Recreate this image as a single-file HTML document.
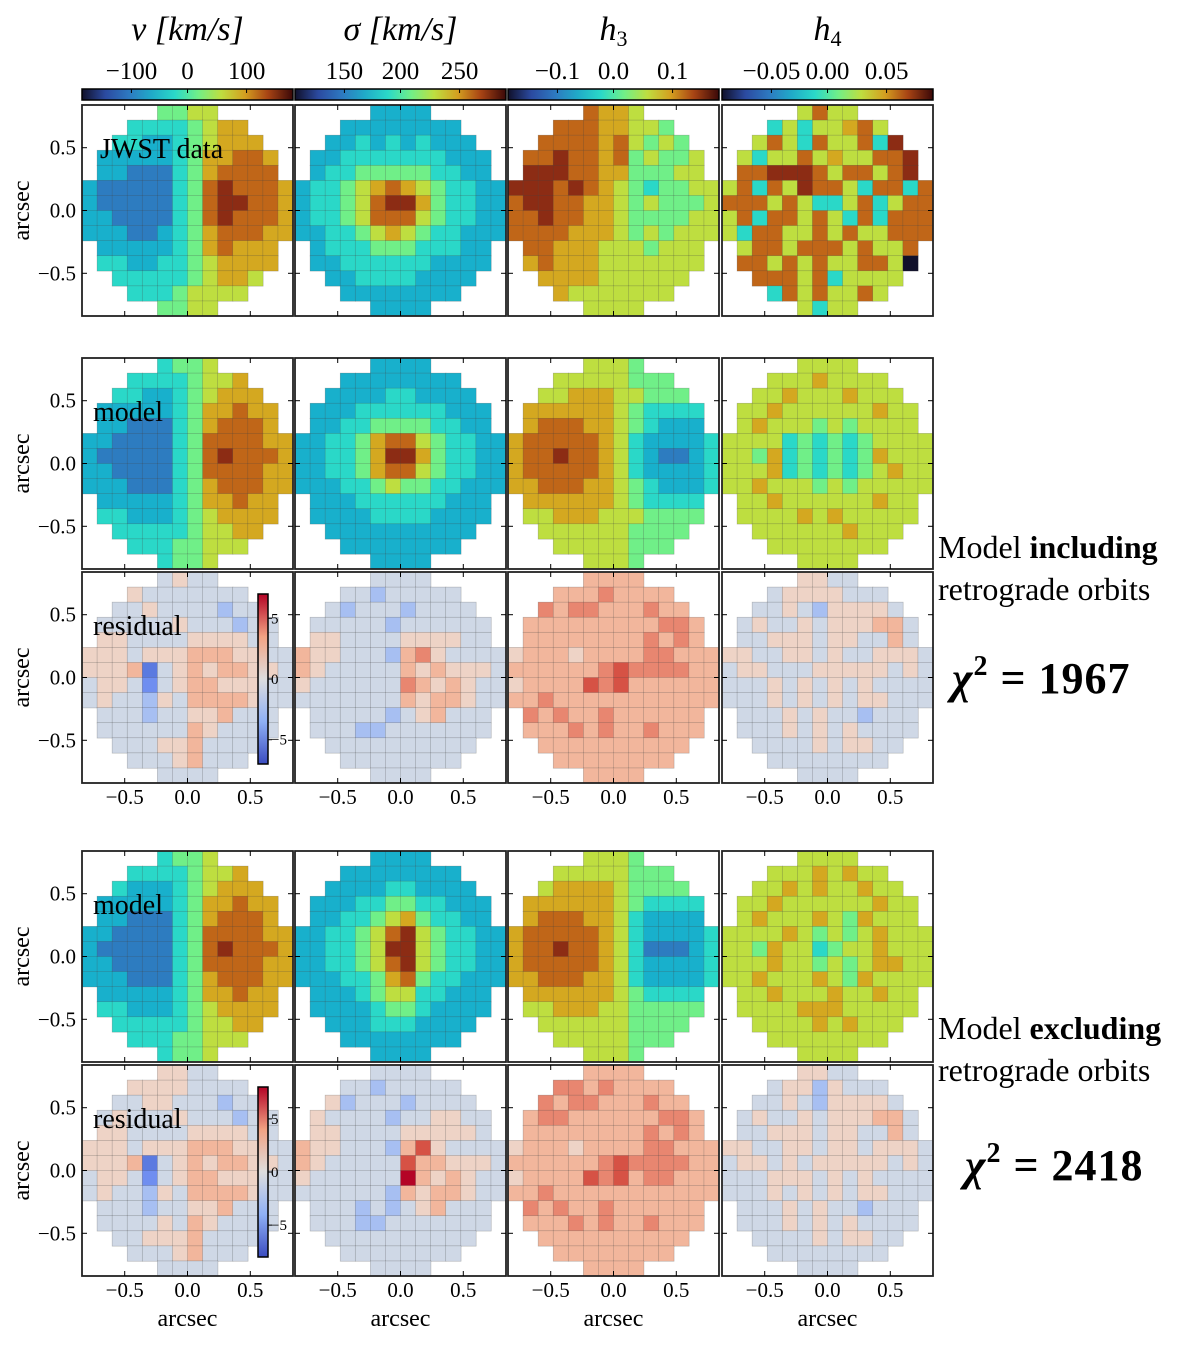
<!DOCTYPE html>
<html><head><meta charset="utf-8"><style>
body{margin:0;background:#fff;}
svg text{font-family:"Liberation Serif",serif;fill:#000;}
</style></head><body>
<svg id="fig" width="1190" height="1340" viewBox="0 0 1190 1340" xmlns="http://www.w3.org/2000/svg">
<defs>
<linearGradient id="gIce" x1="0" x2="1" y1="0" y2="0">
<stop offset="0" stop-color="#10102a"/><stop offset="0.11" stop-color="#2b4aa0"/><stop offset="0.22" stop-color="#2d78c0"/><stop offset="0.33" stop-color="#20aac8"/><stop offset="0.44" stop-color="#2ad8c8"/><stop offset="0.55" stop-color="#70ef88"/><stop offset="0.66" stop-color="#bede40"/><stop offset="0.77" stop-color="#d4a020"/><stop offset="0.88" stop-color="#a84414"/><stop offset="1" stop-color="#3a0808"/>
</linearGradient>
<linearGradient id="gCw" x1="0" x2="0" y1="1" y2="0">
<stop offset="0" stop-color="#3b4cc0"/><stop offset="0.25" stop-color="#8fb0f5"/><stop offset="0.5" stop-color="#dddddd"/><stop offset="0.75" stop-color="#f2a283"/><stop offset="1" stop-color="#b40426"/>
</linearGradient>
</defs>
</svg>
<script>
// ---- data ----
const colTitles=["v [km/s]","σ [km/s]","h3","h4"];
const cbarTicks=[["−100","0","100"],["150","200","250"],["−0.1","0.0","0.1"],["−0.05","0.00","0.05"]];
const axisTicks=[-0.5,0.0,0.5];
const axisTickLabels=["−0.5","0.0","0.5"];
const residTickLabels=["5","0","−5"];
const residTickVals=[5,0,-5];
const rowLabels=["JWST data","model","residual","model","residual"];

const vData=["44444556666666","44444445677777","44443345677777","43333345778877","33322245788887","32222245898887","32222245899887","33222245898887","33322345788877","43333345787777","44433445677777","44444445677666","44444456666666","44444556666666"];
const sData=["33333333333333","33333333333333","33334343433333","33344444443333","33445555544333","34456787654433","34456899754433","34456888654433","33445676544333","33444555444333","33344444433333","33334444333333","33333333333333","33333333333333"];
const h3Data=["88888877666666","88888877665666","88888878656566","88898878565566","89998877555666","99989876545566","89988776565556","88988776555566","88887776565666","88877766656666","87877766666666","78777766666666","77776666666666","77766666666666"];
const h4Data=["66666686666666","66846466786666","66686486684996","66466867668896","88899986886896","68486988648848","88868644684688","68488686484888","64886686866888","66886888686686","68868686688606","66888684666666","66648686686666","66666646666666"];

const vModA=["44444455666666","44444445667777","44443345677777","43333345778777","33322245788877","33222245888877","32222245898887","33222245888877","33322245788877","43333345778777","44433345677777","44444445667777","44444455666666","44444455666666"];
const sModA=["33333333333333","33333333333333","33333344333333","33334444443333","33344555544333","33445788654433","33445799754433","33445788654433","33344565544333","33334444443333","33333444433333","33333333333333","33333333333333","33333333333333"];
const h3ModA=["66666666555555","66666666555555","66667776655555","67777776544444","77888776543334","78888876433334","78898876432234","78888876433334","77888776543334","67777776544444","66677766655555","66666666555555","66666666555555","66666666555555"];
const h4ModA=["66666666666666","66666676666666","66667666766666","66676666667666","66766656566666","66664545456666","66574545457666","66674545456766","66766656566666","66676666667666","66666767666666","66666666766666","66666666666666","66666666666666"];

const vResA=["44444454444444","44454444444444","44445444434444","44444454443444","45544445555444","55545556665544","55561456566554","45542456655544","45443546666544","44443445564444","44444446544444","44444556444444","44444456444444","44444444444444"];
const sResA=["44444444444444","44444344444444","44434443444444","44444434444444","65544445555444","65544436754444","65444446565554","54444447656544","44444446566544","44444434564444","44443344444444","44444444444444","44444444444444","44444444444444"];
const h3ResA=["66666666666666","66666676666666","66767766676666","66666666667766","66666666676766","56665666677666","66666678777766","56666878666666","66766666666666","67676676666666","66667676676666","66666666666666","66666666666666","66666666666666"];
const h4ResA=["44444554444444","44445555444444","44445435555444","44544545556644","44455545544644","55445545445554","45544455555454","44454545454444","44454545455444","44445454434444","44445454544444","44444454554444","44444444444444","44444444444444"];

const vModB=["44444455666666","44444445667777","44433345677777","43333345778777","33322245788877","33222245888877","32222245898887","33222245888877","33322245788877","43333345778777","44433345677777","44444445667777","44444455666666","44444455666666"];
const sModB=["33333333333333","33333333333333","33333344333333","33334455443333","33344567544333","33445689654433","33445699654433","33445689654433","33344578544333","33334566443333","33333455433333","33333444333333","33333333333333","33333333333333"];
const h3ModB=["66666666555555","66666666555555","66677776555555","67777776544444","77888776433334","78888876433334","78898876422234","78888876433334","77888776433334","67777776544444","66677766555555","66666666555555","66666666555555","66666666555555"];
const h4ModB=["66666666666666","66666676766666","66667676676666","66676666667666","66766676576666","66667656567666","66576645667666","66676656567766","66766676576666","66676667667666","66666777666666","66666676766666","66666666666666","66666666666666"];

const vResB=["44444554444444","44455554444444","44445544434444","44544454443444","45544445555444","55545556665544","55561456566554","45542456655544","45443546666544","44443445564444","44444546544444","44445556444444","44444456444444","44444444444444"];
const sResB=["44444444444444","44444344444444","44534443444444","45444434455444","65544445555544","65544436854444","65444448665554","54444449656544","44444436566544","44443434564444","44443344444444","44444444444444","44444444444444","44444444444444"];
const h3ResB=["66666666666666","66677676666666","66767766676666","66776666667766","66666666676766","56665666677666","66666678777766","56666878677666","66766666666666","67676676666666","66667676676666","66666666666666","66666666666666","66666666666666"];
const h4ResB=["44444554444444","44445535444444","44445435555444","44544545556644","44455545544644","55445545545554","45545455555454","44455545454444","44454545455444","44445454434444","44445454544444","44444454554444","44444444444444","44444444444444"];

const panelGrids=[[vData,sData,h3Data,h4Data],[vModA,sModA,h3ModA,h4ModA],[vResA,sResA,h3ResA,h4ResA],[vModB,sModB,h3ModB,h4ModB],[vResB,sResB,h3ResB,h4ResB]];
const residualRows=[false,false,true,false,true];

// ---- geometry ----
const NS="http://www.w3.org/2000/svg";
const svg=document.getElementById('fig');
const colX=[82,295,508,722], rowY=[105,358,572,851,1065], PW=211, PH=211;
const AMIN=-0.84, AMAX=0.84, NC=14, CS=(AMAX-AMIN)/NC;
const iceCols=["#10102a","#2b4aa0","#2d7cc0","#18b0cc","#2ad8c8","#70ef88","#bede40","#d4a820","#c06618","#8c2c14"];
const cwCols=["#3b4cc0","#5b7ae0","#6f8ef0","#a7bff2","#cfd8e6","#eed3c6","#f2b69c","#e88670","#d65245","#b40426"];
function xs(c,a){return colX[c]+(a-AMIN)/(AMAX-AMIN)*PW;}
function ys(r,a){return rowY[r]+(AMAX-a)/(AMAX-AMIN)*PH;}
function mk(tag,attrs,parent){const e=document.createElementNS(NS,tag);for(const k in attrs)e.setAttribute(k,attrs[k]);(parent||svg).appendChild(e);return e;}
function txt(s,x,y,size,anchor,parent){const t=mk('text',{x:x,y:y,'font-size':size,'text-anchor':anchor||'middle'},parent);t.textContent=s;return t;}

// column titles and colorbars
for(let c=0;c<4;c++){
  const t=txt("",colX[c]+PW/2,40,34,'middle');
  
  
  t.setAttribute('font-style','italic');
  if(c<2){t.textContent=colTitles[c];}
  else{const s1=mk('tspan',{},t);s1.textContent='h';const s2=mk('tspan',{'font-size':22,'font-style':'normal',dy:6},t);s2.textContent=colTitles[c].slice(1);}
  const cb=mk('rect',{x:colX[c],y:89,width:PW,height:11,fill:'url(#gIce)',stroke:'#000','stroke-width':1.5});
  
  
  for(let k=0;k<3;k++){
    const tx=colX[c]+PW*(0.22+0.28*k)+(k===0?3:0);
    const tl=txt(cbarTicks[c][k],tx,79,25,'middle');
    
    
    mk('line',{x1:tx,x2:tx,y1:89,y2:93,stroke:'#000','stroke-width':1});
  }
}

// panels
for(let r=0;r<5;r++){
  for(let c=0;c<4;c++){
    const g=mk('g',{});
    
    
    const grid=panelGrids[r][c];
    const cols=residualRows[r]?cwCols:iceCols;
    for(let i=0;i<NC;i++){
      for(let j=0;j<NC;j++){
        const dx=j-6.5, dy=i-6.5;
        const inC=Math.sqrt(dx*dx+dy*dy)<6.75 || ((i===6||i===7)&&(j===0||j===13)) || ((j===6||j===7)&&(i===0||i===13));
        if(!inC)continue;
        const v=parseInt(grid[i][j]);
        const a0=AMIN+j*CS, b0=AMAX-i*CS;
        const cell=mk('rect',{x:xs(c,a0),y:ys(r,b0),width:xs(c,a0+CS)-xs(c,a0)+0.3,height:ys(r,b0-CS)-ys(r,b0)+0.3,fill:cols[v],stroke:'rgba(70,70,70,0.35)','stroke-width':0.6},g);
        
        
      }
    }
    const fr=mk('rect',{x:colX[c],y:rowY[r],width:PW,height:PH,fill:'none',stroke:'#222','stroke-width':1.8},g);
    
    
    for(const a of axisTicks){
      mk('line',{x1:xs(c,a),x2:xs(c,a),y1:rowY[r]+PH,y2:rowY[r]+PH-5,stroke:'#000'},g);
      mk('line',{x1:xs(c,a),x2:xs(c,a),y1:rowY[r],y2:rowY[r]+5,stroke:'#000'},g);
      mk('line',{x1:colX[c],x2:colX[c]+5,y1:ys(r,a),y2:ys(r,a),stroke:'#000'},g);
      mk('line',{x1:colX[c]+PW,x2:colX[c]+PW-5,y1:ys(r,a),y2:ys(r,a),stroke:'#000'},g);
    }
    if(c===0){
      for(let k=0;k<3;k++){
        const tl=txt(axisTickLabels[k],76,ys(r,axisTicks[k])+7,21,'end');
        
        
      }
      const yl=txt('arcsec',0,0,24,'middle');
      yl.setAttribute('transform','translate(29,'+(rowY[r]+PH/2)+') rotate(-90)');
      
      
      const rl=txt(rowLabels[r],r===0?100:93,rowY[r]+(r===0?53:63),28,'start');
      
      
    }
    if(r===2||r===4){
      for(let k=0;k<3;k++){
        const tl=txt(axisTickLabels[k],xs(c,axisTicks[k]),rowY[r]+PH+21,21,'middle');
        
        
      }
    }
    if(r===4){
      const xl=txt('arcsec',colX[c]+PW/2,1326,24,'middle');
      
      
    }
  }
}

// residual colorbars
for(const r of [2,4]){
  const top=rowY[r]+22, h=170, x=258;
  const rb=mk('rect',{x:x,y:top,width:10,height:h,fill:'url(#gCw)',stroke:'#000','stroke-width':1.5});
  
  
  const vmax=r===2?7:8;
  for(let k=0;k<3;k++){
    const yy=top+h/2-residTickVals[k]/vmax*h/2;
    mk('line',{x1:x+10,x2:x+14,y1:yy,y2:yy,stroke:'#000'});
    const tl=txt(residTickLabels[k],x+13,yy+5,15,'start');
    
    
  }
}

// side annotations
const notes=[["Model ","including",558],["retrograde orbits","",600],["Model ","excluding",1039],["retrograde orbits","",1081]];
for(const n of notes){
  const t=txt(n[0],938,n[2],32,'start');
  
  
  if(n[1]){const b=mk('tspan',{'font-weight':'bold'},t);b.textContent=n[1];}
}
const chis=[["1967",952,693],["2418",965,1180]];
for(const ch of chis){
  const t=txt('',ch[1],ch[2],44,'start');
  
  
  t.setAttribute('font-weight','bold');
  t.setAttribute('letter-spacing','1');
  const a=mk('tspan',{'font-style':'italic'},t);a.textContent='χ';
  const b=mk('tspan',{'font-size':28,dy:-18},t);b.textContent='2';
  const c2=mk('tspan',{dy:18},t);c2.textContent=' = '+ch[0];
}
</script>
</body></html>
